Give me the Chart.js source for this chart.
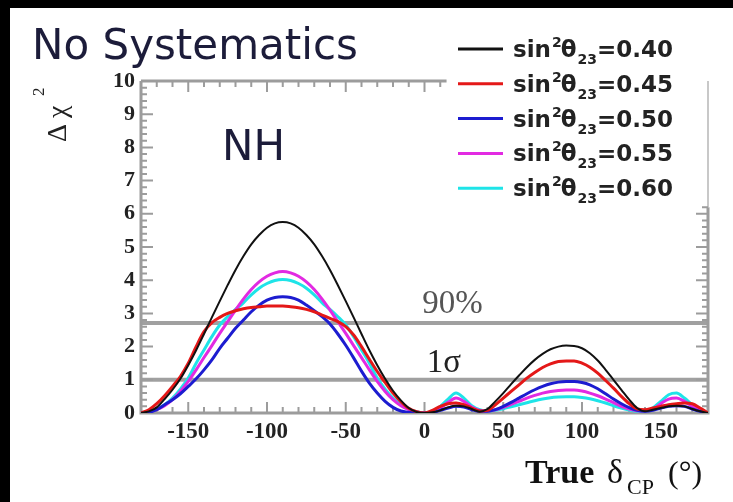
<!DOCTYPE html>
<html>
<head>
<meta charset="utf-8">
<script src="https://cdn.jsdelivr.net/npm/chart.js@4/dist/chart.umd.min.js"></script>
<style>
html,body{margin:0;padding:0;background:#000;}
canvas{display:block;}
</style>
</head>
<body>
<canvas id="c" width="733" height="502"></canvas>
<script>
// True delta_CP (degrees)
const deltaCP = [-180,-175,-170,-165,-160,-155,-150,-145,-140,-135,-130,-125,-120,-115,-110,-105,-100,-95,-90,-85,-80,-75,-70,-65,-60,-55,-50,-45,-40,-35,-30,-25,-20,-15,-10,-5,0,
 5,10,15,20,25,30,35,40,45,50,55,60,65,70,75,80,85,90,95,100,105,110,115,120,125,130,135,140,145,150,155,160,165,170,175,180];

const chi2_040 = [0,0.05,0.17,0.42,0.7,1.03,1.44,1.89,2.38,2.88,3.37,3.85,4.31,4.72,5.08,5.36,5.58,5.71,5.75,5.71,5.58,5.36,5.08,4.72,4.31,3.85,3.37,2.88,2.38,1.89,1.44,1.03,0.67,0.38,0.15,0.03,0,
 0.02,0.08,0.17,0.22,0.2,0.12,0.04,0.12,0.35,0.6,0.87,1.13,1.38,1.6,1.78,1.92,2.0,2.03,2.02,1.95,1.8,1.58,1.3,1.0,0.7,0.4,0.15,0.05,0.1,0.15,0.2,0.22,0.2,0.12,0.05,0];

const chi2_045 = [0,0.1,0.28,0.52,0.8,1.1,1.5,2.0,2.45,2.72,2.88,3.0,3.08,3.14,3.18,3.2,3.22,3.22,3.22,3.2,3.17,3.12,3.05,2.95,2.85,2.75,2.6,2.35,2.0,1.62,1.25,0.92,0.6,0.34,0.14,0.04,0,
 0.08,0.2,0.28,0.3,0.25,0.15,0.06,0.08,0.25,0.45,0.65,0.85,1.05,1.22,1.37,1.48,1.55,1.57,1.57,1.5,1.38,1.2,0.98,0.75,0.5,0.28,0.12,0.1,0.15,0.2,0.25,0.28,0.3,0.28,0.15,0];

const chi2_050 = [0,0.02,0.1,0.25,0.4,0.58,0.8,1.03,1.3,1.6,1.95,2.25,2.55,2.8,3.05,3.25,3.4,3.48,3.5,3.48,3.4,3.25,3.08,2.9,2.68,2.38,2.04,1.66,1.26,0.9,0.6,0.35,0.17,0.06,0.02,0,0,
 0.02,0.08,0.15,0.2,0.18,0.1,0.05,0.05,0.1,0.2,0.32,0.45,0.58,0.7,0.8,0.88,0.93,0.95,0.95,0.92,0.85,0.73,0.58,0.42,0.28,0.16,0.08,0.05,0.08,0.15,0.2,0.22,0.2,0.12,0.05,0];

const chi2_055 = [0,0.03,0.1,0.22,0.4,0.65,0.95,1.3,1.67,2.03,2.4,2.75,3.1,3.43,3.72,3.95,4.12,4.22,4.26,4.22,4.12,3.95,3.72,3.43,3.1,2.75,2.4,2.03,1.67,1.3,0.95,0.65,0.4,0.22,0.1,0.03,0,
 0.05,0.15,0.32,0.45,0.35,0.18,0.08,0.06,0.1,0.17,0.26,0.35,0.45,0.53,0.6,0.65,0.68,0.69,0.69,0.66,0.6,0.52,0.42,0.31,0.2,0.12,0.07,0.06,0.12,0.28,0.42,0.45,0.35,0.2,0.08,0];

const chi2_060 = [0,0.04,0.12,0.25,0.45,0.72,1.05,1.5,1.9,2.3,2.65,2.9,3.12,3.32,3.56,3.76,3.9,3.99,4.02,3.99,3.9,3.76,3.56,3.32,3.12,2.9,2.65,2.3,1.9,1.5,1.05,0.72,0.45,0.25,0.12,0.04,0,
 0.06,0.2,0.42,0.6,0.45,0.22,0.1,0.06,0.08,0.13,0.19,0.25,0.31,0.37,0.42,0.46,0.48,0.49,0.49,0.47,0.43,0.37,0.3,0.22,0.15,0.09,0.05,0.05,0.15,0.35,0.55,0.6,0.45,0.25,0.1,0];

const seriesValues = ['0.40','0.45','0.50','0.55','0.60'];
const seriesColors = ['#111111','#e41818','#1c1cd0','#e22ae2','#1ee4e8'];
const seriesWidths = [2,3,3,3,3];
const seriesData = [chi2_040, chi2_045, chi2_050, chi2_055, chi2_060];

const xTickValues = [-150,-100,-50,0,50,100,150];
const yTickValues = [0,1,2,3,4,5,6,7,8,9,10];
const refLines = [{y:2.71, label:'90%'}, {y:1, label:'1σ'}];

const datasets = seriesData.map((vals, k) => ({
  label: 'sin²θ₂₃=' + seriesValues[k],
  data: deltaCP.map((x, i) => ({x: x, y: vals[i]})),
  borderColor: seriesColors[k],
  borderWidth: seriesWidths[k],
  pointRadius: 0,
  fill: false,
  cubicInterpolationMode: 'monotone'
}));

const GREY = '#9c9c9c';
const TOP_CUT_X = 14;   // legend covers top frame to the right of this x value
const RIGHT_CUT_Y = 6.2; // legend covers right-frame ticks above this y value

const bgPlugin = {
  id: 'bg',
  beforeDraw(chart) {
    const ctx = chart.ctx;
    ctx.save();
    ctx.fillStyle = '#000';
    ctx.fillRect(0, 0, chart.width, chart.height);
    ctx.fillStyle = '#fff';
    ctx.fillRect(10, 8, chart.width - 10, chart.height - 8);
    ctx.restore();
  }
};

const framePlugin = {
  id: 'frame',
  beforeDatasetsDraw(chart) {
    const ctx = chart.ctx;
    const {left, right, top, bottom} = chart.chartArea;
    const xs = chart.scales.x, ys = chart.scales.y;
    const xCut = xs.getPixelForValue(TOP_CUT_X);
    const yCut = ys.getPixelForValue(RIGHT_CUT_Y);
    ctx.save();
    // reference lines
    ctx.strokeStyle = '#a0a0a0';
    ctx.lineWidth = 4;
    refLines.forEach(r => {
      const py = ys.getPixelForValue(r.y);
      ctx.beginPath(); ctx.moveTo(left, py); ctx.lineTo(right, py); ctx.stroke();
    });
    // frame
    ctx.strokeStyle = GREY;
    ctx.lineWidth = 3;
    ctx.beginPath();
    ctx.moveTo(left, top); ctx.lineTo(left, bottom); ctx.lineTo(right, bottom); ctx.lineTo(right, yCut);
    ctx.moveTo(left, top); ctx.lineTo(xCut, top);
    ctx.stroke();
    ctx.strokeStyle = '#c8c8c8';
    ctx.lineWidth = 2;
    ctx.beginPath(); ctx.moveTo(right, yCut); ctx.lineTo(right, top); ctx.stroke();
    // ticks
    ctx.strokeStyle = GREY;
    ctx.lineWidth = 2;
    ctx.beginPath();
    for (let v = -180; v <= 180; v += 10) {
      const px = xs.getPixelForValue(v);
      const len = (v % 50 === 0) ? 11 : 6;
      ctx.moveTo(px, bottom); ctx.lineTo(px, bottom - len);
      if (v <= TOP_CUT_X) { ctx.moveTo(px, top); ctx.lineTo(px, top + len); }
    }
    for (let i = 0; i <= 50; i++) {
      const v = i * 0.2;
      const py = ys.getPixelForValue(v);
      const len = (i % 5 === 0) ? 12 : 6;
      ctx.moveTo(left, py); ctx.lineTo(left + len, py);
      if (v <= RIGHT_CUT_Y) { ctx.moveTo(right, py); ctx.lineTo(right - len, py); }
    }
    ctx.stroke();
    // reference line labels
    ctx.fillStyle = '#555';
    ctx.font = '33px "Liberation Serif"';
    ctx.textBaseline = 'alphabetic';
    ctx.fillText(refLines[0].label, xs.getPixelForValue(-1.5), ys.getPixelForValue(3.0));
    ctx.fillStyle = '#222';
    ctx.fillText(refLines[1].label, xs.getPixelForValue(1.5), ys.getPixelForValue(1.23));
    ctx.restore();
  }
};

function drawLegendLabel(ctx, x, base, value) {
  ctx.fillStyle = '#222';
  ctx.font = 'bold 23px "DejaVu Sans"';
  ctx.fillText('sin', x, base); x += ctx.measureText('sin').width + 1;
  ctx.font = 'bold 14px "DejaVu Sans"';
  ctx.fillText('2', x, base - 10); x += ctx.measureText('2').width - 1;
  ctx.font = 'bold 23px "DejaVu Sans"';
  ctx.fillText('θ', x, base); x += ctx.measureText('θ').width + 1;
  ctx.font = 'bold 14px "DejaVu Sans"';
  ctx.fillText('23', x, base + 7); x += ctx.measureText('23').width;
  ctx.font = 'bold 23px "DejaVu Sans"';
  ctx.fillText('=' + value, x, base);
}

const textPlugin = {
  id: 'texts',
  afterDraw(chart) {
    const ctx = chart.ctx;
    const xs = chart.scales.x, ys = chart.scales.y;
    ctx.save();
    ctx.textBaseline = 'alphabetic';
    ctx.textAlign = 'left';
    // title
    ctx.fillStyle = '#1c1c3a';
    ctx.font = '42px "DejaVu Sans"';
    ctx.fillText('No Systematics', 32, 59);
    // NH
    ctx.fillText('NH', xs.getPixelForValue(-128.5), ys.getPixelForValue(7.62));
    // legend
    seriesValues.forEach((v, k) => {
      const ly = 49 + k * 34.8;
      ctx.strokeStyle = seriesColors[k];
      ctx.lineWidth = 3;
      ctx.beginPath(); ctx.moveTo(458, ly); ctx.lineTo(503, ly); ctx.stroke();
      drawLegendLabel(ctx, 513, ly + 8, v);
    });
    // y-axis title
    ctx.save();
    ctx.translate(66, 142);
    ctx.rotate(-Math.PI / 2);
    ctx.fillStyle = '#222';
    ctx.font = '28px "Liberation Serif"';
    ctx.fillText('Δ', 0, 0);
    ctx.fillText('χ', 24, 0);
    ctx.font = '17px "Liberation Serif"';
    ctx.fillText('2', 46, -22);
    ctx.restore();
    // x-axis title
    ctx.fillStyle = '#111';
    ctx.font = 'bold 34px "Liberation Serif"';
    ctx.fillText('True', 525, 483);
    ctx.font = '34px "Liberation Serif"';
    ctx.fillText('δ', 607, 483);
    ctx.font = '22px "Liberation Serif"';
    ctx.fillText('CP', 627, 494);
    ctx.font = '32px "Liberation Serif"';
    ctx.fillText('(°)', 668, 483);
    ctx.restore();
  }
};

new Chart(document.getElementById('c'), {
  type: 'line',
  data: { datasets: datasets },
  plugins: [bgPlugin, framePlugin, textPlugin],
  options: {
    responsive: false,
    devicePixelRatio: 1,
    animation: false,
    layout: { padding: { left: 0, right: 25, top: 81, bottom: 0 } },
    plugins: { legend: { display: false }, tooltip: { enabled: false } },
    scales: {
      x: {
        type: 'linear', min: -180, max: 180,
        afterBuildTicks: s => { s.ticks = xTickValues.map(v => ({ value: v })); },
        afterFit: s => { s.height = 89; },
        grid: { display: false, drawTicks: false },
        border: { display: false },
        ticks: {
          autoSkip: false, maxRotation: 0, padding: 5, color: '#222',
          font: { family: 'Liberation Serif', weight: 'bold', size: 23 }
        }
      },
      y: {
        type: 'linear', min: 0, max: 10,
        afterBuildTicks: s => { s.ticks = yTickValues.map(v => ({ value: v })); },
        afterFit: s => { s.width = 141; },
        grid: { display: false, drawTicks: false },
        border: { display: false },
        ticks: {
          padding: 6, color: '#222',
          font: { family: 'Liberation Serif', weight: 'bold', size: 22 }
        }
      }
    }
  }
});
</script>
</body>
</html>
